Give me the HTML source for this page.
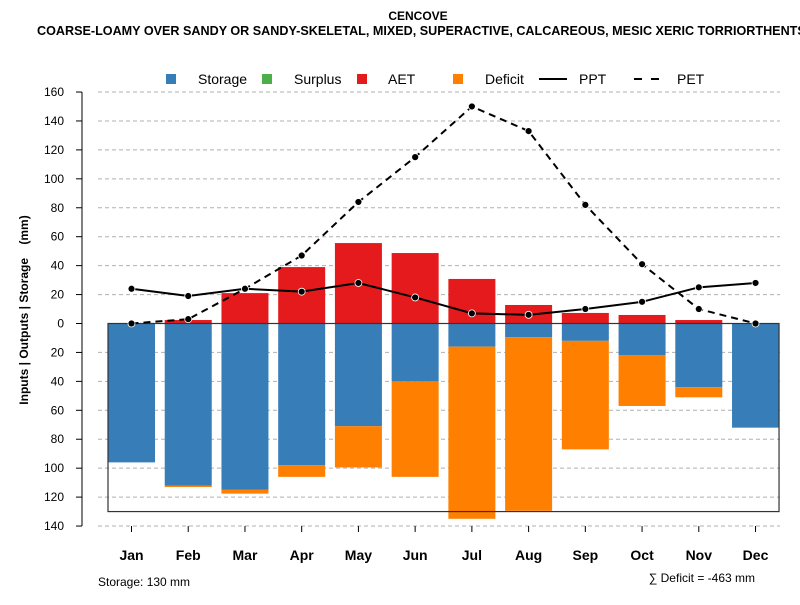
<!DOCTYPE html>
<html><head><meta charset="utf-8"><style>
body{margin:0;background:#fff;}
svg{font-family:"Liberation Sans",Arial,sans-serif;}
</style></head><body>
<svg id="c" width="800" height="600" xmlns="http://www.w3.org/2000/svg">
<text x="418" y="20" text-anchor="middle" font-size="12" font-weight="bold">CENCOVE</text>
<text x="37" y="35" font-size="12.6" font-weight="bold">COARSE-LOAMY OVER SANDY OR SANDY-SKELETAL, MIXED, SUPERACTIVE, CALCAREOUS, MESIC XERIC TORRIORTHENTS</text>
<text transform="translate(28,310) rotate(-90)" text-anchor="middle" font-size="12" font-weight="bold" style="white-space:pre" xml:space="preserve">Inputs | Outputs | Storage    (mm)</text>
<text x="98" y="586" font-size="12">Storage: 130 mm</text>
<text x="755" y="582" text-anchor="end" font-size="12">∑ Deficit = -463 mm</text>
<g id="legend" font-size="14">
<g><rect x="166" y="74" width="10" height="10" fill="#377eb8"/><text x="198" y="84">Storage</text></g>
<g><rect x="262" y="74" width="10" height="10" fill="#4daf4a"/><text x="294" y="84">Surplus</text></g>
<g><rect x="357" y="74" width="10" height="10" fill="#e41a1c"/><text x="388" y="84">AET</text></g>
<g><rect x="453" y="74" width="10" height="10" fill="#ff7f00"/><text x="485" y="84">Deficit</text></g>
<g><line x1="539" y1="79" x2="567" y2="79" stroke="#000" stroke-width="2"/><text x="579" y="84">PPT</text></g>
<g><line x1="634" y1="79" x2="660" y2="79" stroke="#000" stroke-width="2" stroke-dasharray="8,9"/><text x="677" y="84">PET</text></g>
</g>
</svg>
<script>
const months=["Jan","Feb","Mar","Apr","May","Jun","Jul","Aug","Sep","Oct","Nov","Dec"];
const storage=[96,112,115,98,71,40,16,9.5,12,22,44,72];
const deficit=[0,1,2.6,8,28.5,66,119,120,75,35,7,0];
const aet=[0,2.4,21,39,55.6,48.7,30.8,12.8,7.3,5.9,2.4,0];
const surplus=[0,0,0,0,0,0,0,0,0,0,0,0];
const ppt=[24,19,24,22,28,18,7,6,10,15,25,28];
const pet=[0,3,24,47,84,115,150,133,82,41,10,0];
const yTicks=[160,140,120,100,80,60,40,20,0,-20,-40,-60,-80,-100,-120,-140];
const yTickLabels=["160","140","120","100","80","60","40","20","0","20","40","60","80","100","120","140"];
const storageCap=130;
const NS="http://www.w3.org/2000/svg";
const svg=document.getElementById('c');
const y=v=>323.5-v*1.4467;
const x=i=>131.5+i*56.73;
const bw=47;
function mk(t,a,p){const e=document.createElementNS(NS,t);for(const k in a)e.setAttribute(k,a[k]);(p||svg).appendChild(e);return e;}
const grid=mk('g',{});


yTicks.forEach(v=>{if(v!==0){mk('line',{x1:98,x2:780,y1:y(v),y2:y(v),stroke:'#b0b0b0','stroke-dasharray':'4,3'},grid);}});
const yax=mk('g',{});


mk('line',{x1:82,x2:82,y1:y(160),y2:y(-140),stroke:'#000'},yax);
yTicks.forEach((v,i)=>{mk('line',{x1:76,x2:82,y1:y(v),y2:y(v),stroke:'#000'},yax);const t=mk('text',{x:64,y:y(v)+4,'text-anchor':'end','font-size':12},yax);t.textContent=yTickLabels[i];});
const bars=mk('g',{});


months.forEach((m,i)=>{
  const cx=x(i)-bw/2;
  if(storage[i]>0){const r=mk('rect',{x:cx,y:y(0),width:bw,height:y(-storage[i])-y(0),fill:'#377eb8'},bars);}
  if(deficit[i]>0){const r=mk('rect',{x:cx,y:y(-storage[i]),width:bw,height:y(-storage[i]-deficit[i])-y(-storage[i]),fill:'#ff7f00'},bars);}
  if(aet[i]>0){const r=mk('rect',{x:cx,y:y(aet[i]),width:bw,height:y(0)-y(aet[i]),fill:'#e41a1c'},bars);}
  if(surplus[i]>0){const r=mk('rect',{x:cx,y:y(aet[i]+surplus[i]),width:bw,height:y(aet[i])-y(aet[i]+surplus[i]),fill:'#4daf4a'},bars);}
});
const box=mk('rect',{x:x(0)-bw/2,y:y(0),width:x(11)+bw/2-(x(0)-bw/2),height:y(-storageCap)-y(0),fill:'none',stroke:'#333','stroke-width':1.2});


function series(vals,dash,name){
  const g=mk('g',{});
  
  
  mk('polyline',{points:vals.map((v,i)=>x(i)+','+y(v)).join(' '),fill:'none',stroke:'#000','stroke-width':2,'stroke-dasharray':dash||'none'},g);
  vals.forEach((v,i)=>{const c=mk('circle',{cx:x(i),cy:y(v),r:3.5,fill:'#000',stroke:'#fff','stroke-width':0.8},g);});
}
series(pet,'7,5','pet-line');
series(ppt,null,'ppt-line');
const xax=mk('g',{});


months.forEach((m,i)=>{mk('line',{x1:x(i),x2:x(i),y1:y(-140),y2:y(-140)+6,stroke:'#000'},xax);const t=mk('text',{x:x(i),y:560,'text-anchor':'middle','font-size':14,'font-weight':'bold'},xax);t.textContent=m;});
</script>
</body></html>
